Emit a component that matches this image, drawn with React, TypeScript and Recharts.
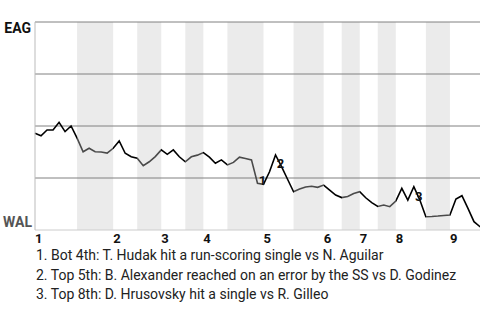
import { LineChart, Line, XAxis, YAxis, ReferenceArea, ReferenceLine } from 'recharts'

// win probability for EAG after each play (0 = WAL wins, 100 = EAG wins)
const winProb = [
  46.5, 45.3, 48.1, 48.1, 51.8, 47.3, 50.0, 44.2, 37.6, 39.3,
  37.6, 37.5, 37.0, 39.3, 42.8, 36.9, 35.2, 34.5, 30.9, 32.8,
  35.3, 38.5, 36.4, 38.5, 35.2, 32.8, 35.2, 36.0, 37.2, 35.0,
  32.1, 33.7, 31.3, 32.5, 35.0, 34.4, 33.7, 22.5, 22.0, 28.0,
  36.1, 30.5, 24.4, 18.4, 19.7, 20.7, 21.0, 20.5, 21.6, 19.2,
  16.8, 15.6, 16.1, 17.5, 18.4, 15.5, 13.2, 11.3, 12.0, 11.2,
  13.9, 20.0, 14.4, 20.8, 14.4, 6.4, 6.5, 6.7, 7.0, 7.2,
  14.9, 16.5, 10.4, 4.0, 1.6, 0,
]

// play index where each inning's top half starts, and where its bottom half starts
const inningStarts = [0, 13, 21, 28, 38, 48, 54, 60, 69]
const bottomStarts = [7, 17, 25, 32, 43, 51, 57, 65]
const inningLabels = ['1', '2', '3', '4', '5', '6', '7', '8', '9']

const gridValues = [25, 50, 75, 100]

const notePlays = [38, 41, 64]
const notes = [
  '1. Bot 4th: T. Hudak hit a run-scoring single vs N. Aguilar',
  '2. Top 5th: B. Alexander reached on an error by the SS vs D. Godinez',
  '3. Top 8th: D. Hrusovsky hit a single vs R. Gilleo',
]

const lastPlay = winProb.length - 1
const data = winProb.map((wp, i) => ({ play: i, wp }))

const FONT = 'Roboto, "Liberation Sans", Arial, sans-serif'

function XTick(props: any) {
  const { x, payload } = props
  const idx = inningStarts.indexOf(payload.value)
  return (
    <text x={x} y={243} textAnchor="start" fontFamily={FONT} fontSize={13} fontWeight="bold" fill="#111">
      {inningLabels[idx]}
    </text>
  )
}

function YTick(props: any) {
  const { y, payload } = props
  const top = payload.value === 100
  return (
    <text
      x={top ? 31 : 32}
      y={top ? y + 11 : y - 3}
      textAnchor="end"
      fontFamily={FONT}
      fontSize={14}
      fontWeight="bold"
      fill={top ? '#111' : '#555'}
    >
      {top ? 'EAG' : 'WAL'}
    </text>
  )
}

function NoteDot(props: any) {
  const { cx, cy, index } = props
  const n = notePlays.indexOf(index)
  if (n < 0) return <g key={index} />
  return (
    <text key={index} x={cx - 1} y={cy + 1} textAnchor="middle" fontFamily={FONT} fontSize={13} fontWeight="bold" fill="#111">
      {n + 1}
    </text>
  )
}

// stroke goes black for top halves, grey for bottom halves
const stops: { off: number; color: string }[] = []
bottomStarts.forEach((b, i) => {
  const end = inningStarts[i + 1]
  stops.push({ off: b / lastPlay, color: '#000' })
  stops.push({ off: b / lastPlay, color: '#4a4a4a' })
  stops.push({ off: end / lastPlay, color: '#4a4a4a' })
  stops.push({ off: end / lastPlay, color: '#000' })
})

export default function App() {
  return (
    <div style={{ position: 'absolute', left: 0, top: 0, width: 480, height: 320, overflow: 'hidden', background: '#fff' }}>
      <LineChart width={490} height={260} data={data} margin={{ top: 22, right: 4, bottom: 0, left: 0 }}>
        <defs>
          <linearGradient id="halfStroke" x1="0" y1="0" x2="1" y2="0">
            <stop offset={0} stopColor="#000" />
            {stops.map((s, i) => (
              <stop key={i} offset={s.off} stopColor={s.color} />
            ))}
            <stop offset={1} stopColor="#000" />
          </linearGradient>
        </defs>
        <XAxis
          dataKey="play"
          type="number"
          domain={[0, lastPlay]}
          ticks={inningStarts}
          tick={<XTick />}
          tickLine={false}
          axisLine={{ stroke: '#cccccc' }}
          height={30}
          interval={0}
        />
        <YAxis
          type="number"
          domain={[0, 100]}
          ticks={[0, 100]}
          tick={<YTick />}
          tickLine={false}
          axisLine={{ stroke: '#bbbbbb' }}
          width={35}
          interval={0}
        />
        {bottomStarts.map((b, i) => (
          <ReferenceArea key={b} x1={b} x2={inningStarts[i + 1]} y1={0} y2={100} fill="#ebebeb" fillOpacity={1} stroke="none" ifOverflow="hidden" />
        ))}
        {gridValues.map((v) => (
          <ReferenceLine key={v} y={v} stroke="#808080" strokeWidth={1} />
        ))}
        <Line
          type="linear"
          dataKey="wp"
          stroke="url(#halfStroke)"
          strokeWidth={1.6}
          dot={<NoteDot />}
          activeDot={false}
          isAnimationActive={false}
        />
      </LineChart>
      <div
        style={{
          position: 'absolute',
          left: 36,
          top: 246,
          fontFamily: FONT,
          fontSize: 14,
          lineHeight: '19.5px',
          color: '#222',
          whiteSpace: 'nowrap',
        }}
      >
        {notes.map((t) => (
          <div key={t}>{t}</div>
        ))}
      </div>
    </div>
  )
}
